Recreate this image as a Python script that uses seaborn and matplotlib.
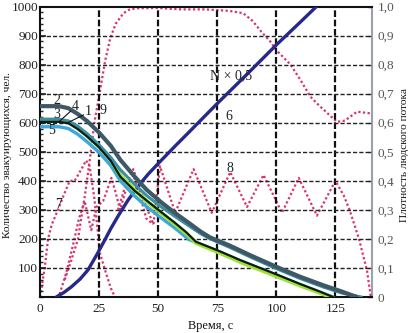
import numpy as np
import pandas as pd
import matplotlib
matplotlib.use("Agg")
import matplotlib.pyplot as plt
import seaborn as sns
from matplotlib.ticker import MultipleLocator, FuncFormatter

sns.set_theme(style="white")
plt.rcParams['font.family'] = ['Liberation Serif', 'DejaVu Serif']

# ---- data: number of evacuees (left axis) ----
t2 = [0, 8, 12, 16, 20, 25, 30, 34, 40, 45, 51, 57, 63, 68, 72, 80, 90, 100, 110, 120, 128, 134]
n2 = [657, 657, 650, 630, 605, 566, 520, 472, 415, 370, 328, 290, 255, 225, 205, 178, 140, 104, 70, 40, 18, 0]

t4 = [0, 8, 12, 16, 20, 25, 30, 34, 40, 45, 51, 57, 63, 68, 72, 80, 90, 100, 110, 120, 128, 136]
n4 = [612, 612, 606, 588, 562, 524, 480, 438, 388, 350, 312, 278, 245, 218, 200, 172, 134, 98, 64, 34, 13, 0]

t3 = [0, 8, 12, 16, 20, 25, 30, 34, 40, 45, 51, 57, 62, 66, 75, 85, 100, 110, 118, 123]
n3 = [610, 610, 604, 582, 555, 518, 472, 418, 368, 331, 291, 252, 218, 186, 156, 120, 72, 40, 16, 0]

t1 = [0, 8, 12, 16, 20, 25, 30, 34, 40, 45, 51, 57, 62, 66, 75, 85, 100, 110, 118, 124]
n1 = [603, 603, 598, 578, 552, 515, 468, 414, 366, 333, 294, 256, 222, 190, 161, 126, 78, 45, 20, 0]

t5 = [0, 8, 12, 16, 20, 25, 30, 34, 40, 45, 51, 57, 63, 66, 75, 85, 100, 110, 118, 124]
n5 = [586, 586, 580, 560, 534, 498, 452, 400, 348, 312, 274, 238, 198, 188, 159, 124, 76, 43, 18, 0]

# curve 6: N x 0.5
t6 = [6.9, 10, 13.3, 17, 20.3, 24, 27.4, 30, 33, 37.3, 42.4, 46, 50.8, 57, 63.6, 75, 88, 100.3, 110, 117]
n6 = [0, 15, 35, 62, 93, 145, 196, 236, 278, 334, 390, 425, 466, 518, 572, 666, 770, 870, 945, 1000]

# ---- data: flow density (right axis) ----
t7 = [0, 2, 3.4, 5, 7.6, 10, 12.6, 14.7, 17.5, 19.5, 21, 23, 25.4, 28, 30, 31.7]
d7 = [0, 0.1, 0.2, 0.25, 0.30, 0.35, 0.40, 0.40, 0.44, 0.47, 0.45, 0.34, 0.15, 0.08, 0.03, 0.0]

t7b = [8.3, 11, 14, 16.5, 18.9, 20.3, 21.7, 23.9, 26.7, 28.5, 30.2, 32, 33.9, 36, 39.5, 42, 45, 48]
d7b = [0.01, 0.08, 0.18, 0.27, 0.33, 0.28, 0.23, 0.31, 0.33, 0.37, 0.41, 0.36, 0.30, 0.36, 0.42, 0.36, 0.27, 0.25]

t9 = [10.5, 13, 16.1, 19, 21.2, 23, 25.4, 27.5, 29.7, 32, 35.3, 38, 41, 50, 60, 70, 80, 86, 90, 94, 97.5, 100, 106, 110, 114.4, 118, 122, 125.7, 129, 132, 134.2, 137, 140]
d9 = [0.06, 0.12, 0.2, 0.35, 0.48, 0.6, 0.71, 0.81, 0.89, 0.94, 0.977, 0.99, 0.994, 0.995, 0.99, 0.99, 0.985, 0.977, 0.95, 0.91, 0.879, 0.85, 0.80, 0.75, 0.69, 0.66, 0.63, 0.603, 0.607, 0.625, 0.638, 0.635, 0.632]

t8 = [33, 36, 39.5, 44, 48, 50.8, 57.2, 65, 72.7, 80.5, 87.6, 94.6, 102.4, 109.5, 117.2, 125, 128.5, 131, 135, 138.4, 140]
d8 = [0.30, 0.38, 0.44, 0.33, 0.25, 0.45, 0.29, 0.44, 0.29, 0.43, 0.31, 0.42, 0.29, 0.41, 0.28, 0.40, 0.35, 0.30, 0.20, 0.09, 0.0]

x_ticks = [0, 25, 50, 75, 100, 125]
y_ticks = [100, 200, 300, 400, 500, 600, 700, 800, 900, 1000]
r_ticks = [0, 0.1, 0.2, 0.3, 0.4, 0.5, 0.6, 0.7, 0.8, 0.9, 1.0]

fig = plt.figure(figsize=(4.14, 3.33), dpi=100)
ax = fig.add_axes([40/414, 36/333, 332/414, 290.5/333])
ax2 = ax.twinx()

grid_kw = dict(color='#222222', lw=1.0, ls=(0, (3, 1.5)), zorder=0)
for xv in x_ticks[1:]:
    ax.axvline(xv, color='#111111', lw=1.6, ls=(0, (3, 1.2)), zorder=0)
for yv in y_ticks[:-1]:
    ax.axhline(yv, **grid_kw)

def lp(axis, t, v, color, lw, ls='-', z=3):
    df = pd.DataFrame({'t': t, 'v': v})
    sns.lineplot(data=df, x='t', y='v', ax=axis, color=color, lw=lw, ls=ls,
                 zorder=z, legend=False, estimator=None, sort=False)

pink = '#d8336f'
dot = (0, (1, 1.1))
lp(ax2, t7, d7, pink, 1.6, dot)
lp(ax2, t7b, d7b, pink, 1.6, dot)
lp(ax2, t9, d9, pink, 1.6, dot)
lp(ax2, t8, d8, pink, 1.6, dot)

lp(ax, t6, n6, '#26288a', 2.4)
lp(ax, t5, n5, '#3aa8d8', 2.4)
lp(ax, t3, n3, '#9ee234', 3.0)
lp(ax, t4, n4, '#3b8fa0', 2.2)
lp(ax, t1, n1, '#0d1a16', 1.6)
lp(ax, t2, n2, '#3e5866', 3.0)

ax.set_zorder(ax2.get_zorder() + 1)
ax.patch.set_visible(False)

ax.set_xlim(0, 140.5)
ax.set_ylim(0, 1000)
ax2.set_ylim(0, 1.0)
ax.set_xticks(x_ticks)
ax.set_yticks(y_ticks)
ax2.set_yticks(r_ticks)
ax2.yaxis.set_major_formatter(FuncFormatter(lambda v, p: '0' if v == 0 else f'{v:.1f}'.replace('.', ',')))
ax.xaxis.set_minor_locator(MultipleLocator(5))
ax.yaxis.set_minor_locator(MultipleLocator(20))

ax.tick_params(axis='both', which='major', direction='in', length=4, width=1.2,
               labelsize=9.5, colors='#222222', pad=4)
ax.tick_params(axis='both', which='minor', direction='in', length=2, width=1)
ax2.tick_params(axis='y', which='major', direction='in', length=3, width=1,
                labelsize=9.5, labelcolor='#555555', pad=4)
ax.tick_params(axis='y', pad=1.5)

for s in ['left', 'bottom', 'top']:
    ax.spines[s].set_color('#111111')
    ax.spines[s].set_linewidth(1.5)
ax.spines['right'].set_visible(False)
ax2.spines['right'].set_color('#9aa0b0')
ax2.spines['right'].set_linewidth(1.5)
for s in ['left', 'bottom', 'top']:
    ax2.spines[s].set_visible(False)

ax.set_xlabel('Время, с', fontsize=8.8, color='#111111')
ax.xaxis.set_label_coords(0.515, -0.08)
ax.set_ylabel('Количество эвакуирующихся, чел.', fontsize=8.2, color='#111111')
ax.yaxis.set_label_coords(-0.085, 0.49)
ax2.set_ylabel('Плотность людского потока', fontsize=8.2, color='#111111', rotation=90)
ax2.yaxis.set_label_coords(1.085, 0.49)

tk = dict(fontsize=10, color='#222222', zorder=6)
ax.text(5.5, 663, '2', **tk)
ax.text(13.5, 645, '4', **tk)
ax.text(5.5, 617, '3', **tk)
ax.text(19, 628, '1', **tk)
ax.text(3.5, 560, '5', **tk)
ax.text(25, 630, '9', **tk)
ax.text(6.5, 305, '7', **tk)
ax.text(79, 430, '8', **tk)
ax.text(78.5, 610, '6', **tk)
ax.text(72, 750, 'N × 0,5', **tk)
ax.plot([13, 8], [640, 603], color='#111111', lw=0.8, zorder=6)
ax.plot([18.5, 11], [627, 597], color='#111111', lw=0.8, zorder=6)

fig.savefig('out.png', dpi=100)
